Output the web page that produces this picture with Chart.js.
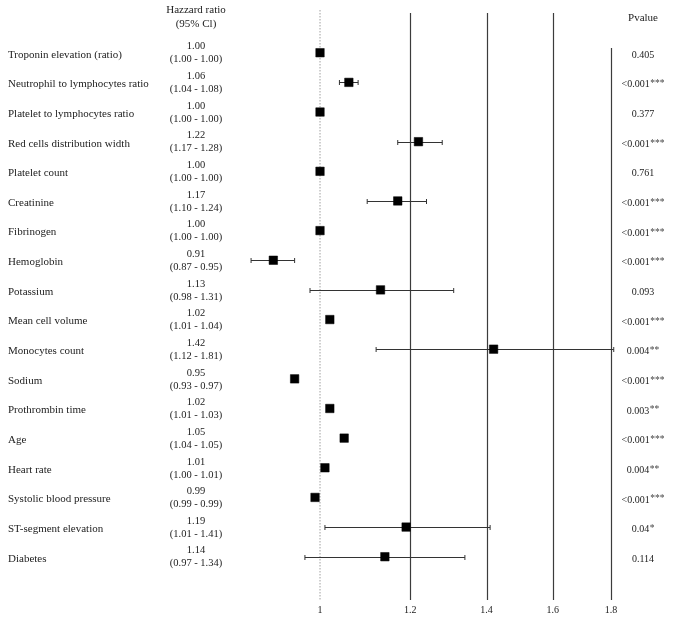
<!DOCTYPE html>
<html>
<head>
<meta charset="utf-8">
<script src="https://cdn.jsdelivr.net/npm/chart.js@4/dist/chart.umd.min.js"></script>
<style>
html,body{margin:0;padding:0;background:#fff;}
#wrap{width:673px;height:619px;position:relative;}
</style>
</head>
<body>
<div id="wrap"><canvas id="c" width="673" height="619"></canvas></div>
<script>
// ---- data ----
const variables = [
  'Troponin elevation (ratio)',
  'Neutrophil to lymphocytes ratio',
  'Platelet to lymphocytes ratio',
  'Red cells distribution width',
  'Platelet count',
  'Creatinine',
  'Fibrinogen',
  'Hemoglobin',
  'Potassium',
  'Mean cell volume',
  'Monocytes count',
  'Sodium',
  'Prothrombin time',
  'Age',
  'Heart rate',
  'Systolic blood pressure',
  'ST-segment elevation',
  'Diabetes'
];
const hazardRatio = [1.00,1.06,1.00,1.22,1.00,1.17,1.00,0.91,1.13,1.02,1.42,0.95,1.02,1.05,1.01,0.99,1.19,1.14];
const ciLow  = [1.00,1.04,1.00,1.17,1.00,1.10,1.00,0.87,0.98,1.01,1.12,0.93,1.01,1.04,1.00,0.99,1.01,0.97];
const ciHigh = [1.00,1.08,1.00,1.28,1.00,1.24,1.00,0.95,1.31,1.04,1.81,0.97,1.03,1.05,1.01,0.99,1.41,1.34];
// whiskers visible in the picture
const whiskerShown = [false,true,false,true,false,true,false,true,true,false,true,false,false,false,false,false,true,true];
const pValues = ['0.405','<0.001','0.377','<0.001','0.761','<0.001','<0.001','<0.001','0.093','<0.001','0.004','<0.001','0.003','<0.001','0.004','<0.001','0.04','0.114'];
const pStars  = ['','***','','***','','***','***','***','','***','**','***','**','***','**','***','*',''];
const xTicks = [1, 1.2, 1.4, 1.6, 1.8];
const xTickLabels = ['1','1.2','1.4','1.6','1.8'];

// ---- drawing ----
const FONT = '"Liberation Serif", "DejaVu Serif", serif';
const TXT = '#222';
const fmt2 = v => v.toFixed(2);

const points = hazardRatio.map((v, i) => ({x: v, y: i}));

const forestPlugin = {
  id: 'forest',
  beforeDatasetsDraw(chart) {
    const ctx = chart.ctx;
    const xs = chart.scales.x, ys = chart.scales.y;
    const area = chart.chartArea;
    ctx.save();
    // reference dotted line at 1
    const x1 = xs.getPixelForValue(1);
    ctx.strokeStyle = '#b0b0b0';
    ctx.lineWidth = 1.2;
    ctx.setLineDash([1.5, 1.5]);
    ctx.beginPath();
    ctx.moveTo(x1, area.top - 3);
    ctx.lineTo(x1, area.bottom);
    ctx.stroke();
    ctx.setLineDash([]);
    // vertical grid lines
    ctx.strokeStyle = '#3c3c3c';
    ctx.lineWidth = 1.2;
    xTicks.forEach((t, k) => {
      if (t === 1) return;
      const px = Math.round(xs.getPixelForValue(t)) + 0.5;
      const top = (k === xTicks.length - 1) ? ys.getPixelForValue(-0.16) : area.top;
      ctx.beginPath();
      ctx.moveTo(px, top);
      ctx.lineTo(px, area.bottom);
      ctx.stroke();
    });
    // whiskers
    ctx.strokeStyle = '#333';
    ctx.lineWidth = 1;
    hazardRatio.forEach((v, i) => {
      if (!whiskerShown[i]) return;
      const y = Math.round(ys.getPixelForValue(i)) + 0.5;
      const a = xs.getPixelForValue(ciLow[i]);
      const b = xs.getPixelForValue(ciHigh[i]);
      ctx.beginPath();
      ctx.moveTo(a, y); ctx.lineTo(b, y);
      ctx.moveTo(a, y - 2.5); ctx.lineTo(a, y + 2.5);
      ctx.moveTo(b, y - 2.5); ctx.lineTo(b, y + 2.5);
      ctx.stroke();
    });
    ctx.restore();
  },
  afterDraw(chart) {
    const ctx = chart.ctx;
    const ys = chart.scales.y;
    ctx.save();
    ctx.fillStyle = TXT;
    ctx.textBaseline = 'middle';
    ctx.font = '11px ' + FONT;
    // headers
    ctx.textAlign = 'center';
    ctx.fillText('Hazzard ratio', 196, 10);
    ctx.fillText('(95% Cl)', 196, 24);
    ctx.fillText('Pvalue', 643, 18);
    variables.forEach((name, i) => {
      const y = ys.getPixelForValue(i);
      ctx.font = '11px ' + FONT;
      ctx.textAlign = 'left';
      ctx.fillText(name, 8, y + 2);
      ctx.font = '10.5px ' + FONT;
      ctx.textAlign = 'center';
      ctx.fillText(fmt2(hazardRatio[i]), 196, y - 6);
      ctx.fillText('(' + fmt2(ciLow[i]) + ' - ' + fmt2(ciHigh[i]) + ')', 196, y + 7);
      // p-value with superscript stars
      ctx.font = '10px ' + FONT;
      const w1 = ctx.measureText(pValues[i]).width;
      ctx.font = '9.5px ' + FONT;
      const w2 = pStars[i] ? ctx.measureText(pStars[i]).width + 0.5 : 0;
      const start = 643 - (w1 + w2) / 2;
      ctx.textAlign = 'left';
      ctx.font = '10px ' + FONT;
      ctx.fillText(pValues[i], start, y + 2.5);
      if (pStars[i]) {
        ctx.font = '9.5px ' + FONT;
        ctx.fillStyle = '#444';
        ctx.fillText(pStars[i], start + w1 + 0.5, y + 1.5);
        ctx.fillStyle = TXT;
      }
    });
    ctx.restore();
  }
};

new Chart(document.getElementById('c'), {
  type: 'scatter',
  data: {
    datasets: [{
      data: points,
      pointStyle: 'rect',
      pointRadius: 6,
      pointHoverRadius: 6,
      backgroundColor: '#000',
      borderColor: '#000',
      borderWidth: 0.5
    }]
  },
  options: {
    responsive: false,
    animation: false,
    devicePixelRatio: 1,
    layout: { padding: { left: 245, right: 53, top: 13, bottom: 0 } },
    plugins: { legend: { display: false }, tooltip: { enabled: false } },
    scales: {
      x: {
        type: 'logarithmic',
        min: 0.8594,
        max: 1.833,
        grid: { display: false, drawTicks: false },
        border: { display: false },
        afterBuildTicks: s => { s.ticks = xTicks.map(v => ({ value: v })); },
        afterFit: s => { s.height = 19; },
        ticks: {
          padding: 4,
          color: TXT,
          font: { family: FONT, size: 10 },
          autoSkip: false,
          maxRotation: 0,
          callback: (v, i) => xTickLabels[i]
        }
      },
      y: {
        type: 'linear',
        display: false,
        reverse: true,
        min: -1.34,
        max: 18.46
      }
    }
  },
  plugins: [forestPlugin]
});
</script>
</body>
</html>
